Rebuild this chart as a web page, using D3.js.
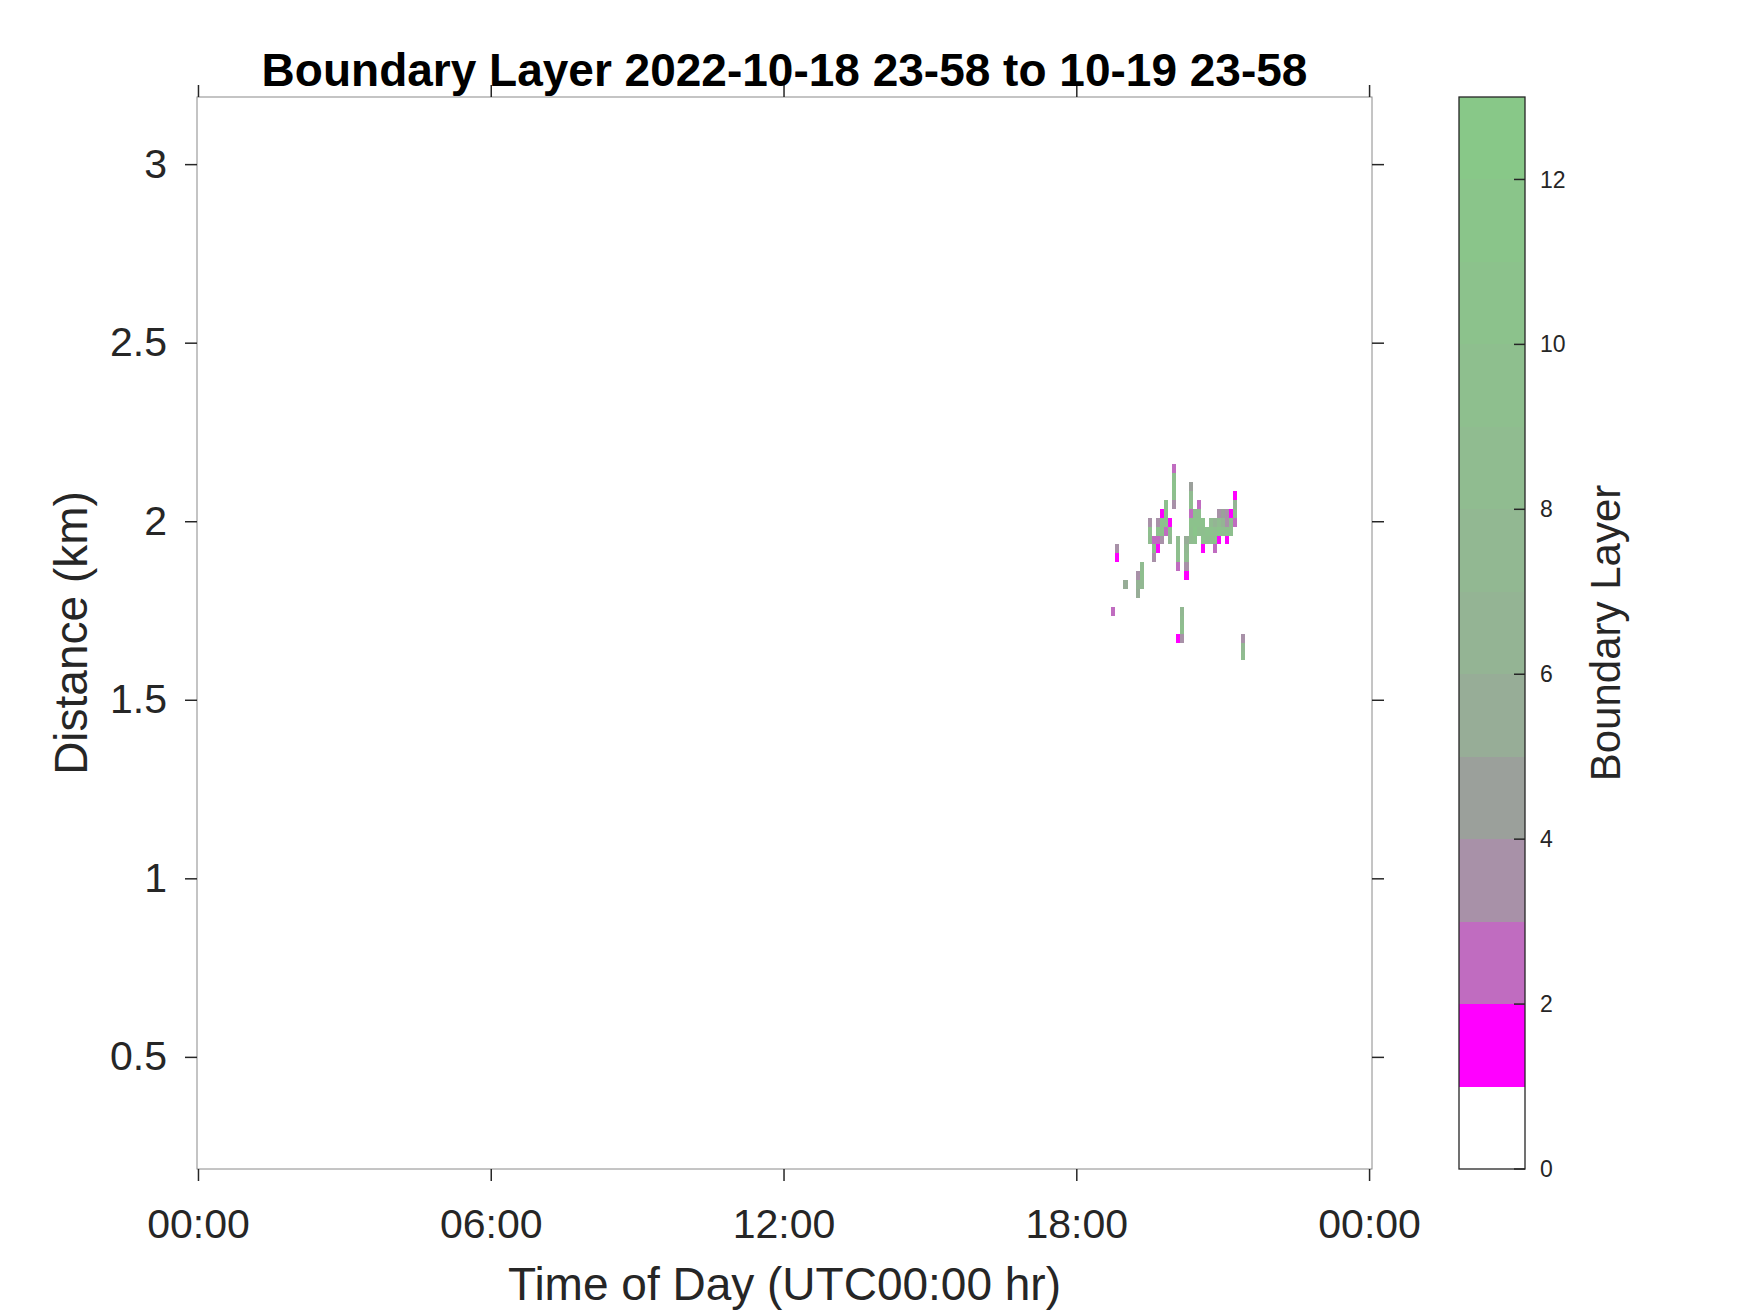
<!DOCTYPE html>
<html>
<head>
<meta charset="utf-8">
<script src="https://cdn.jsdelivr.net/npm/d3@7"></script>
<style>
  body { margin: 0; background: #fff; }
  text { font-family: "Liberation Sans", Arial, Helvetica, sans-serif; }
</style>
</head>
<body>
<div id="chart"></div>
<script>
// Boundary layer detections (start time of 5-min gate, gate base in km, class value)
const cellTime = [
  '18:43',
  '18:48', '18:48',
  '18:58',
  '19:13', '19:13', '19:13',
  '19:18', '19:18', '19:18',
  '19:28', '19:28', '19:28',
  '19:33', '19:33', '19:33',
  '19:38', '19:38', '19:38', '19:38',
  '19:43', '19:43', '19:43', '19:43',
  '19:48', '19:48', '19:48', '19:48',
  '19:53', '19:53', '19:53',
  '19:58', '19:58', '19:58', '19:58', '19:58',
  '20:03', '20:03', '20:03', '20:03', '20:03',
  '20:08', '20:08', '20:08', '20:08',
  '20:13', '20:13', '20:13', '20:13', '20:13',
  '20:18', '20:18', '20:18', '20:18', '20:18', '20:18', '20:18',
  '20:23', '20:23', '20:23', '20:23',
  '20:28', '20:28', '20:28', '20:28',
  '20:33', '20:33', '20:33', '20:33',
  '20:38', '20:38',
  '20:43', '20:43', '20:43',
  '20:48', '20:48', '20:48', '20:48',
  '20:53', '20:53', '20:53', '20:53',
  '20:58', '20:58', '20:58',
  '21:03', '21:03', '21:03', '21:03',
  '21:08', '21:08', '21:08',
  '21:13', '21:13', '21:13', '21:13',
  '21:23', '21:23', '21:23'
];
const cellBase = [
  1.735,
  1.910, 1.885,
  1.810,
  1.835, 1.810, 1.785,
  1.860, 1.835, 1.810,
  1.985, 1.960, 1.935,
  1.935, 1.910, 1.885,
  1.985, 1.960, 1.935, 1.910,
  2.010, 1.985, 1.960, 1.935,
  2.035, 2.010, 1.985, 1.960,
  1.985, 1.960, 1.935,
  2.135, 2.110, 2.085, 2.060, 2.035,
  1.935, 1.910, 1.885, 1.860, 1.660,
  1.735, 1.710, 1.685, 1.660,
  1.935, 1.910, 1.885, 1.860, 1.835,
  2.085, 2.060, 2.035, 2.010, 1.985, 1.960, 1.935,
  2.010, 1.985, 1.960, 1.935,
  2.035, 2.010, 1.985, 1.960,
  1.985, 1.960, 1.935, 1.910,
  1.960, 1.935,
  1.985, 1.960, 1.935,
  1.985, 1.960, 1.935, 1.910,
  2.010, 1.985, 1.960, 1.935,
  2.010, 1.985, 1.960,
  2.010, 1.985, 1.960, 1.935,
  2.010, 1.985, 1.960,
  2.060, 2.035, 2.010, 1.985,
  1.660, 1.635, 1.610
];
const cellValue = [
  2,
  3, 1,
  5,
  3, 6, 5,
  8, 9, 7,
  3, 9, 8,
  2, 9, 3,
  3, 10, 2, 1,
  1, 9, 10, 3,
  9, 10, 9, 2,
  1, 9, 7,
  2, 9, 10, 9, 3,
  8, 9, 9, 2, 1,
  7, 8, 9, 3,
  5, 7, 8, 3, 1,
  4, 8, 9, 2, 10, 9, 8,
  9, 10, 11, 9,
  2, 9, 10, 9,
  10, 9, 10, 1,
  10, 9,
  8, 10, 9,
  6, 9, 10, 2,
  3, 8, 10, 1,
  4, 6, 9,
  3, 3, 9, 1,
  1, 8, 9,
  1, 6, 8, 2,
  3, 7, 8
];
const gateMinutes = 5;
const gateDepth = 0.025;

const xTickHours = [0, 6, 12, 18, 24];
const yTickValues = [0.5, 1, 1.5, 2, 2.5, 3];
const levelColors = ['#ffffff', '#ff00ff', '#c06cc0', '#a891a8', '#9ba09b', '#97ad97',
  '#94b494', '#92b892', '#90bc90', '#8ebf8e', '#8cc28c', '#8ac58a', '#88c888'];
const colorbarTicks = [0, 2, 4, 6, 8, 10, 12];

const W = 1750, H = 1313;
const plot = { left: 197, right: 1372, top: 97, bottom: 1169 };
const cbar = { left: 1459, right: 1525 };
const tickLen = 12;
const ink = '#262626';

const svg = d3.select('#chart').append('svg')
  .attr('width', W).attr('height', H)
  .style('display', 'block');

const x = d3.scaleLinear().domain([-0.02, 24.06]).range([plot.left, plot.right]);
const y = d3.scaleLinear().domain([0.186, 3.188]).range([plot.bottom, plot.top]);

const toHours = s => { const [h, m] = s.split(':').map(Number); return h + m / 60; };
const cells = cellTime.map((t, i) => ({ t: toHours(t), base: cellBase[i], v: cellValue[i] }));

svg.append('clipPath').attr('id', 'clip').append('rect')
  .attr('x', plot.left).attr('y', plot.top)
  .attr('width', plot.right - plot.left).attr('height', plot.bottom - plot.top);

svg.append('g').attr('clip-path', 'url(#clip)')
  .selectAll('rect').data(cells).join('rect')
  .attr('x', d => x(d.t))
  .attr('width', d => x(d.t + gateMinutes / 60) - x(d.t))
  .attr('y', d => y(d.base + gateDepth))
  .attr('height', d => y(d.base) - y(d.base + gateDepth))
  .attr('fill', d => levelColors[d.v])
  .attr('shape-rendering', 'crispEdges');

// Axes box
svg.append('rect')
  .attr('x', plot.left).attr('y', plot.top)
  .attr('width', plot.right - plot.left).attr('height', plot.bottom - plot.top)
  .attr('fill', 'none').attr('stroke', '#8a8a8a').attr('stroke-width', 1);

const fmtHour = h => String(h % 24).padStart(2, '0') + ':00';

// bottom + top ticks (outside)
const xAxisBottom = d3.axisBottom(x).tickValues(xTickHours).tickFormat(fmtHour)
  .tickSizeOuter(0).tickSizeInner(tickLen).tickPadding(28);
svg.append('g').attr('transform', `translate(0,${plot.bottom})`).call(xAxisBottom)
  .call(g => g.select('.domain').remove())
  .call(g => g.selectAll('line').attr('stroke', ink).attr('stroke-width', 1.5))
  .call(g => g.selectAll('text').attr('fill', ink).attr('font-size', 41)
    .attr('font-family', '"Liberation Sans", Arial, sans-serif'));

svg.append('g').attr('transform', `translate(0,${plot.top})`)
  .call(d3.axisTop(x).tickValues(xTickHours).tickFormat('').tickSizeOuter(0).tickSizeInner(tickLen))
  .call(g => g.select('.domain').remove())
  .call(g => g.selectAll('line').attr('stroke', ink).attr('stroke-width', 1.5));

// left + right ticks (outside)
svg.append('g').attr('transform', `translate(${plot.left},0)`)
  .call(d3.axisLeft(y).tickValues(yTickValues).tickFormat(d3.format('~g'))
    .tickSizeOuter(0).tickSizeInner(tickLen).tickPadding(18))
  .call(g => g.select('.domain').remove())
  .call(g => g.selectAll('line').attr('stroke', ink).attr('stroke-width', 1.5))
  .call(g => g.selectAll('text').attr('fill', ink).attr('font-size', 41)
    .attr('font-family', '"Liberation Sans", Arial, sans-serif'));

svg.append('g').attr('transform', `translate(${plot.right},0)`)
  .call(d3.axisRight(y).tickValues(yTickValues).tickFormat('').tickSizeOuter(0).tickSizeInner(tickLen))
  .call(g => g.select('.domain').remove())
  .call(g => g.selectAll('line').attr('stroke', ink).attr('stroke-width', 1.5));

// Title and axis labels
svg.append('text')
  .attr('x', (plot.left + plot.right) / 2).attr('y', 86)
  .attr('text-anchor', 'middle').attr('font-size', 46).attr('font-weight', 'bold')
  .attr('fill', '#000')
  .text('Boundary Layer 2022-10-18 23-58 to 10-19 23-58');

svg.append('text')
  .attr('x', (plot.left + plot.right) / 2).attr('y', 1300)
  .attr('text-anchor', 'middle').attr('font-size', 46).attr('fill', ink)
  .text('Time of Day (UTC00:00 hr)');

svg.append('text')
  .attr('transform', `translate(87,${(plot.top + plot.bottom) / 2}) rotate(-90)`)
  .attr('text-anchor', 'middle').attr('font-size', 46).attr('fill', ink)
  .text('Distance (km)');

// Colorbar
const c = d3.scaleLinear().domain([0, levelColors.length]).range([plot.bottom, plot.top]);
svg.append('g').selectAll('rect').data(levelColors).join('rect')
  .attr('x', cbar.left).attr('width', cbar.right - cbar.left)
  .attr('y', (d, i) => c(i + 1)).attr('height', (d, i) => c(i) - c(i + 1))
  .attr('fill', d => d).attr('shape-rendering', 'crispEdges');

svg.append('rect')
  .attr('x', cbar.left).attr('y', plot.top)
  .attr('width', cbar.right - cbar.left).attr('height', plot.bottom - plot.top)
  .attr('fill', 'none').attr('stroke', ink).attr('stroke-width', 1.3);

const cbTicks = svg.append('g').selectAll('g').data(colorbarTicks).join('g')
  .attr('transform', d => `translate(0,${c(d)})`);
cbTicks.append('line')
  .attr('x1', cbar.right - 11).attr('x2', cbar.right)
  .attr('stroke', ink).attr('stroke-width', 1.5);
cbTicks.append('text')
  .attr('x', 1540).attr('dy', '0.35em')
  .attr('font-size', 23).attr('fill', ink)
  .text(d => d);

svg.append('text')
  .attr('transform', `translate(1620,${(plot.top + plot.bottom) / 2}) rotate(-90)`)
  .attr('text-anchor', 'middle').attr('font-size', 42).attr('fill', ink)
  .text('Boundary Layer');
</script>
</body>
</html>
